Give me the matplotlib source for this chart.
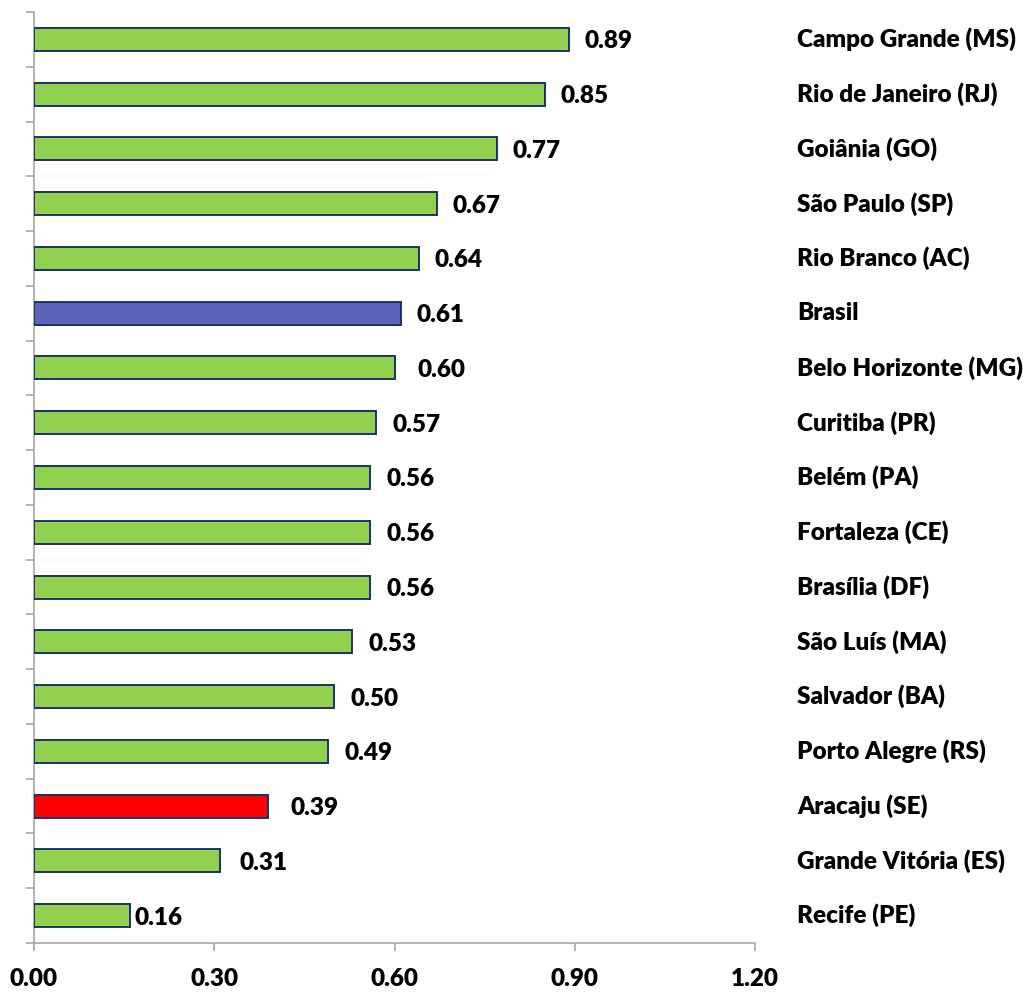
import matplotlib
matplotlib.use("Agg")
import matplotlib.pyplot as plt
from matplotlib.ticker import FormatStrFormatter
from matplotlib.transforms import offset_copy

categories = ["Campo Grande (MS)", "Rio de Janeiro (RJ)", "Goiânia (GO)", "São Paulo (SP)",
              "Rio Branco (AC)", "Brasil", "Belo Horizonte (MG)", "Curitiba (PR)", "Belém (PA)",
              "Fortaleza (CE)", "Brasília (DF)", "São Luís (MA)", "Salvador (BA)",
              "Porto Alegre (RS)", "Aracaju (SE)", "Grande Vitória (ES)", "Recife (PE)"]
values = [0.89, 0.85, 0.77, 0.67, 0.64, 0.61, 0.60, 0.57, 0.56, 0.56, 0.56, 0.53, 0.50,
          0.49, 0.39, 0.31, 0.16]
x_ticks = [0.0, 0.3, 0.6, 0.9, 1.2]

GREEN = "#92D050"
BLUE = "#5B64B8"
RED = "#FF0000"
EDGE = "#1A3263"
colors = [BLUE if c == "Brasil" else RED if c.startswith("Aracaju") else GREEN for c in categories]
label_pad_px = [16, 16, 16, 16, 16, 16, 23, 16, 16, 16, 16, 16, 16, 16, 22, 19, 4]

plt.rcParams['font.family'] = ['Lato', 'DejaVu Sans']
FW = 'heavy'
FS = 17.5

W, H, DPI = 1025, 992, 100
fig = plt.figure(figsize=(W / DPI, H / DPI), dpi=DPI)
ax = fig.add_axes([34 / W, (H - 943) / H, (755 - 34) / W, (943 - 12) / H])

ypos = list(range(len(categories)))
ax.barh(ypos, values, height=0.42, color=colors, edgecolor=EDGE, linewidth=1.4, zorder=3)
ax.set_xlim(0, 1.2)
ax.set_ylim(len(categories) - 0.5, -0.5)

ax.set_xticks(x_ticks)
ax.xaxis.set_major_formatter(FormatStrFormatter("%.2f"))
ax.tick_params(axis='x', direction='out', length=6, width=1.2, color="#A6A6A6",
               labelsize=FS, pad=12)
for t in ax.get_xticklabels():
    t.set_fontweight(FW)

ax.set_yticks([])
ax.set_yticks([i - 0.5 for i in range(len(categories) + 1)], minor=True)
ax.tick_params(axis='y', which='minor', direction='out', length=6, width=1.2, color="#A6A6A6")

for s in ["top", "right"]:
    ax.spines[s].set_visible(False)
for s in ["left", "bottom"]:
    ax.spines[s].set_color("#A6A6A6")
    ax.spines[s].set_linewidth(1.2)

for i, (v, c) in enumerate(zip(values, categories)):
    tr = offset_copy(ax.transData, fig=fig, x=label_pad_px[i], y=-2, units='dots')
    ax.text(v, i, f"{v:.2f}", transform=tr, ha='left', va='center', fontsize=FS,
            fontweight=FW, color='black')
    ax.text((797 - 34) / (755 - 34), i, c,
            transform=ax.get_yaxis_transform(), ha='left', va='center',
            fontsize=FS, fontweight=FW, color='black', clip_on=False)

fig.savefig("out.png", dpi=DPI)
